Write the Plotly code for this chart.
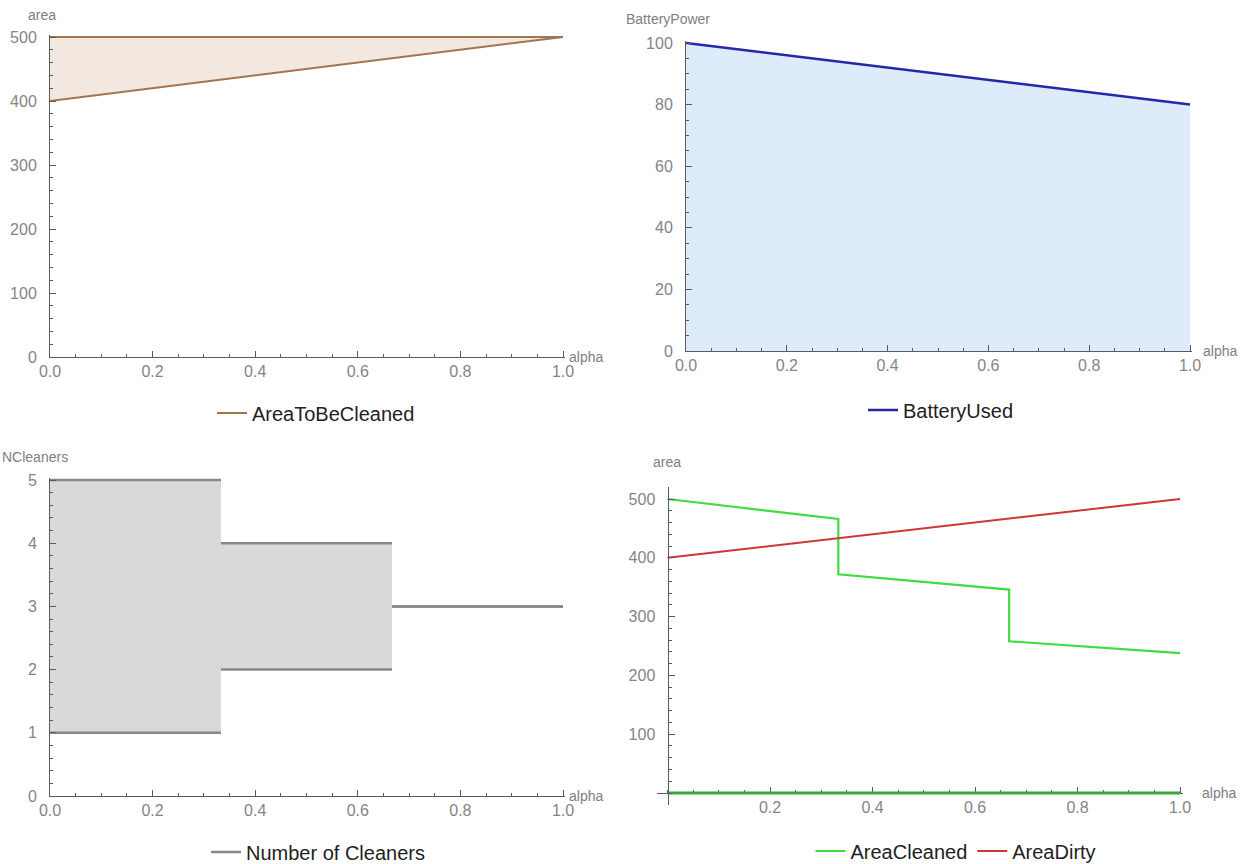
import plotly.graph_objects as go

# ---------------- data ----------------
# Panel 1: area to be cleaned (band between two lines)
p1_alpha = [0.0, 1.0]
p1_upper = [500, 500]
p1_lower = [400, 500]

# Panel 2: battery used
p2_alpha = [0.0, 1.0]
p2_battery = [100, 80]

# Panel 3: number of cleaners (step band)
p3_edges = [0.0, 1 / 3, 2 / 3, 1.0]
p3_upper = [5, 4, 3]
p3_lower = [1, 2, 3]

# Panel 4: area cleaned / area dirty
p4_clean_alpha = [0.0, 1 / 3, 1 / 3, 2 / 3, 2 / 3, 1.0]
p4_clean = [500, 466, 372, 346, 258, 238]
p4_zero_alpha = [0.0, 1.0]
p4_zero = [0, 0]
p4_dirty_alpha = [0.0, 1.0]
p4_dirty = [400, 500]

# the page's body margin is removed (see post_script), so the figure fills the window
W, H = 1250, 864
FONT = "Liberation Sans, Arial, sans-serif"
AX_COL = "#5a5a5a"
TICK_FONT = dict(family=FONT, size=16, color="#858585")


def px_x(p):
    return p / W


def px_y(p):
    return 1 - p / H


def span(v0, p0, v1, p1, r0, r1):
    """pixel span of the range [r0, r1] given two calibration points (value, pixel)"""
    k = (p1 - p0) / (v1 - v0)
    return p0 + (r0 - v0) * k, p0 + (r1 - v0) * k


def xdom(*a):
    s0, s1 = span(*a)
    return [px_x(s0), px_x(s1)]


def ydom(*a):
    s0, s1 = span(*a)
    return [px_y(s0), px_y(s1)]


fig = go.Figure()

# ---- Panel 1 ----
BROWN = "#a07650"
fig.add_trace(go.Scatter(x=p1_alpha, y=p1_lower, mode="lines",
                         line=dict(width=0, color="rgba(0,0,0,0)"), xaxis="x", yaxis="y",
                         showlegend=False, hoverinfo="skip"))
fig.add_trace(go.Scatter(x=p1_alpha, y=p1_upper, mode="lines", fill="tonexty",
                         fillcolor="rgba(190,140,95,0.2)",
                         line=dict(width=0, color="rgba(0,0,0,0)"), xaxis="x", yaxis="y",
                         showlegend=False, hoverinfo="skip"))
fig.add_trace(go.Scatter(x=p1_alpha, y=p1_lower, mode="lines",
                         line=dict(color=BROWN, width=2), xaxis="x", yaxis="y",
                         showlegend=False, hoverinfo="skip"))
fig.add_trace(go.Scatter(x=p1_alpha, y=p1_upper, mode="lines",
                         line=dict(color=BROWN, width=2), xaxis="x", yaxis="y",
                         name="AreaToBeCleaned", legend="legend"))

# ---- Panel 2 ----
fig.add_trace(go.Scatter(x=p2_alpha, y=p2_battery, mode="lines", fill="tozeroy",
                         fillcolor="#ddebfb", line=dict(width=0, color="rgba(0,0,0,0)"),
                         xaxis="x2", yaxis="y2", showlegend=False, hoverinfo="skip"))
fig.add_trace(go.Scatter(x=p2_alpha, y=p2_battery, mode="lines",
                         line=dict(color="#2626a8", width=2.5),
                         xaxis="x2", yaxis="y2", name="BatteryUsed", legend="legend2"))

# ---- Panel 3 ----
for i in range(len(p3_upper)):
    a, b = p3_edges[i], p3_edges[i + 1]
    lo, up = p3_lower[i], p3_upper[i]
    if up > lo:
        fig.add_trace(go.Scatter(x=[a, b, b, a, a], y=[lo, lo, up, up, lo], mode="lines",
                                 fill="toself", fillcolor="#d9d9d9",
                                 line=dict(width=0, color="rgba(0,0,0,0)"),
                                 xaxis="x3", yaxis="y3", showlegend=False, hoverinfo="skip"))
seg_x, seg_y = [], []
for i in range(len(p3_upper)):
    a, b = p3_edges[i], p3_edges[i + 1]
    for v in (p3_upper[i], p3_lower[i]):
        seg_x += [a, b, None]
        seg_y += [v, v, None]
fig.add_trace(go.Scatter(x=seg_x, y=seg_y, mode="lines", line=dict(color="#888888", width=2.5),
                         xaxis="x3", yaxis="y3", name="Number of Cleaners", legend="legend3",
                         connectgaps=False))

# ---- Panel 4 ----
GREEN = "#3fdc3f"
fig.add_trace(go.Scatter(x=p4_zero_alpha, y=p4_zero, mode="lines",
                         line=dict(color="#3aa83a", width=2.8), xaxis="x4", yaxis="y4",
                         showlegend=False, hoverinfo="skip"))
fig.add_trace(go.Scatter(x=p4_clean_alpha, y=p4_clean, mode="lines",
                         line=dict(color=GREEN, width=2.2), xaxis="x4", yaxis="y4",
                         name="AreaCleaned", legend="legend4"))
fig.add_trace(go.Scatter(x=p4_dirty_alpha, y=p4_dirty, mode="lines",
                         line=dict(color="#d03535", width=2), xaxis="x4", yaxis="y4",
                         name="AreaDirty", legend="legend4"))


def axis(domain, rng, tickvals, ticktext, minor_dtick, **kw):
    d = dict(domain=domain, range=rng, showgrid=False, zeroline=False,
             showline=True, linecolor=AX_COL, linewidth=1,
             ticks="inside", ticklen=6, tickcolor=AX_COL, tickwidth=1,
             tickvals=tickvals, ticktext=ticktext, tickfont=TICK_FONT,
             minor=dict(ticks="inside", ticklen=3, tickcolor=AX_COL, dtick=minor_dtick,
                        showgrid=False),
             automargin=False, fixedrange=True)
    d.update(kw)
    return d


xt = [0, 0.2, 0.4, 0.6, 0.8, 1.0]
xtt = ["0.0", "0.2", "0.4", "0.6", "0.8", "1.0"]

# ranges (slightly extended so edge lines are not clipped)
r1x, r1y = [0, 1.003], [0, 503]
r2x, r2y = [0, 1.003], [0, 100.6]
r3x, r3y = [0, 1.003], [0, 5.03]
r4x, r4y = [-0.02, 1.005], [-20, 520]

# domains calibrated to the reference's pixel positions
d1x = xdom(0, 50, 1, 563, *r1x)
d1y = ydom(0, 357, 500, 37, *r1y)
d2x = xdom(0, 686, 1, 1190, *r2x)
d2y = ydom(0, 351, 100, 43, *r2y)
d3x = xdom(0, 50, 1, 563, *r3x)
d3y = ydom(0, 796, 5, 480, *r3y)
d4x = xdom(0, 667.5, 1, 1180, *r4x)
d4y = ydom(0, 793, 500, 499, *r4y)

x4_pos = d4y[0] + (0 - r4y[0]) / (r4y[1] - r4y[0]) * (d4y[1] - d4y[0])
y4_pos = d4x[0] + (0 - r4x[0]) / (r4x[1] - r4x[0]) * (d4x[1] - d4x[0])

YSTAND = 9
fig.update_layout(
    width=W, height=H, margin=dict(l=0, r=0, t=0, b=0, autoexpand=False),
    paper_bgcolor="white", plot_bgcolor="white",
    font=dict(family=FONT),
    xaxis=axis(d1x, r1x, xt, xtt, 0.05, anchor="y"),
    yaxis=axis(d1y, r1y, [0, 100, 200, 300, 400, 500],
               ["0", "100", "200", "300", "400", "500"], 20, anchor="x",
               ticklabelstandoff=YSTAND),
    xaxis2=axis(d2x, r2x, xt, xtt, 0.05, anchor="y2"),
    yaxis2=axis(d2y, r2y, [0, 20, 40, 60, 80, 100],
                ["0", "20", "40", "60", "80", "100"], 5, anchor="x2",
                ticklabelstandoff=YSTAND),
    xaxis3=axis(d3x, r3x, xt, xtt, 0.05, anchor="y3"),
    yaxis3=axis(d3y, r3y, [0, 1, 2, 3, 4, 5],
                ["0", "1", "2", "3", "4", "5"], 0.2, anchor="x3",
                ticklabelstandoff=YSTAND),
    xaxis4=axis(d4x, r4x, [0.2, 0.4, 0.6, 0.8, 1.0], ["0.2", "0.4", "0.6", "0.8", "1.0"],
                0.05, anchor="free", position=x4_pos, layer="below traces"),
    yaxis4=axis(d4y, r4y, [100, 200, 300, 400, 500], ["100", "200", "300", "400", "500"],
                20, anchor="free", position=y4_pos, ticklabelstandoff=YSTAND),
)

leg_common = dict(orientation="h", xanchor="center", yanchor="middle",
                  font=dict(family=FONT, size=20, color="#222222"),
                  bgcolor="rgba(0,0,0,0)", itemwidth=30)
fig.update_layout(
    legend=dict(x=px_x(316), y=px_y(413), **leg_common),
    legend2=dict(x=px_x(941), y=px_y(410), **leg_common),
    legend3=dict(x=px_x(318), y=px_y(852), **leg_common),
    legend4=dict(x=px_x(956), y=px_y(851), **leg_common),
)

LBL = dict(family=FONT, size=14, color="#808080")


def label(text, x, y, xanchor="center"):
    fig.add_annotation(text=text, x=px_x(x), y=px_y(y), xref="paper", yref="paper",
                       showarrow=False, font=LBL, xanchor=xanchor, yanchor="middle")


label("area", 42, 15)
label("alpha", 567, 357, "left")
label("BatteryPower", 668, 19)
label("alpha", 1201, 351, "left")
label("NCleaners", 35, 457)
label("alpha", 567, 796, "left")
label("area", 667, 462)
label("alpha", 1200, 793, "left")

fig.write_html("out.html", config={"displayModeBar": False},
               post_script="document.body.style.margin='0px';document.body.style.overflow='hidden';")
